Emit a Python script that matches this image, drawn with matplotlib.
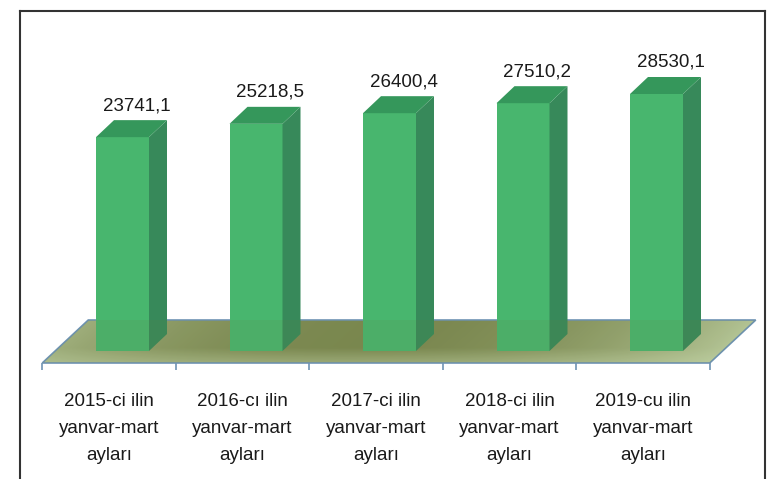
import numpy as np
import matplotlib
matplotlib.use("Agg")
import matplotlib.pyplot as plt
from matplotlib.patches import Polygon
from matplotlib.lines import Line2D

# data
years = ["2015-ci ilin", "2016-cı ilin", "2017-ci ilin", "2018-ci ilin", "2019-cu ilin"]
periods = ["yanvar-mart", "yanvar-mart", "yanvar-mart", "yanvar-mart", "yanvar-mart"]
months = ["ayları", "ayları", "ayları", "ayları", "ayları"]
values = [23741.1, 25218.5, 26400.4, 27510.2, 28530.1]
value_labels = ["23741,1", "25218,5", "26400,4", "27510,2", "28530,1"]

plt.rcParams["font.family"] = ["Liberation Sans", "DejaVu Sans"]

W, H = 776, 479
fig = plt.figure(figsize=(W / 100, H / 100), dpi=100)

# axes placed in pixel terms
ax_l, ax_r, ax_t, ax_b = 20, 765, 11, 380
ax = fig.add_axes([ax_l / W, 1 - ax_b / H, (ax_r - ax_l) / W, (ax_b - ax_t) / H])
ax.set_axis_off()

cat_px = 133.5        # pixels per category
c0_px = 109           # pixel x of first category centre
base_px = 351         # pixel y of value 0
u_per_px = 28530.1 / 257.0   # value units per pixel

ax.set_xlim((ax_l - c0_px) / cat_px, (ax_r - c0_px) / cat_px)
ax.set_ylim(-(ax_b - base_px) * u_per_px, (base_px - ax_t) * u_per_px)

def px_x(p):
    return p / cat_px

def px_y(p):
    return p * u_per_px

# floor geometry
n = len(values)
fy = -px_y(12)
fdx, fdy = px_x(46), px_y(43)
floor = [(-0.5, fy), (n - 0.5, fy), (n - 0.5 + fdx, fy + fdy), (-0.5 + fdx, fy + fdy)]

# floor gradient
xs = np.linspace(-0.5, n - 0.5 + fdx, 400)
ys = np.linspace(fy, fy + fdy, 60)
X, Y = np.meshgrid(xs, ys)
v = (Y - fy) / fdy
u = np.clip((X - (-0.5) - v * fdx) / n, 0, 1)
t = np.sin(np.pi * (0.12 + 0.85 * u)) ** 0.7
t = t * (0.55 + 0.45 * np.clip(v / 0.35, 0, 1))
light = np.array([0.80, 0.87, 0.70])
dark = np.array([0.49, 0.54, 0.32])
img = light[None, None, :] * (1 - t[..., None]) + dark[None, None, :] * t[..., None]
im = ax.imshow(img, extent=(xs[0], xs[-1], ys[0], ys[-1]), origin="lower",
               aspect="auto", zorder=1, interpolation="bilinear")
fpoly = Polygon(floor, closed=True, facecolor="none", edgecolor="#6f94b4",
                linewidth=1.2, zorder=2)
ax.add_patch(fpoly)
im.set_clip_path(fpoly)

# tick marks below the floor front edge
ax.vlines(np.arange(-0.5, n, 1.0), fy - px_y(7), fy, color="#6f94b4", linewidth=1.2, zorder=2)

# 3D bars
bw = px_x(53)
boff = px_x(13.5)
ddx, ddy = px_x(18), px_y(17)
front_c = "#48b66e"
side_c = "#37895a"
top_c = "#35975b"
for i, val in enumerate(values):
    x0 = i + boff - bw / 2
    x1 = x0 + bw
    ax.add_patch(Polygon([(x0, 0), (x1, 0), (x1, val), (x0, val)],
                         facecolor=front_c, edgecolor="none", zorder=3))
    ax.add_patch(Polygon([(x1, 0), (x1 + ddx, ddy), (x1 + ddx, val + ddy), (x1, val)],
                         facecolor=side_c, edgecolor="none", zorder=3))
    ax.add_patch(Polygon([(x0, val), (x1, val), (x1 + ddx, val + ddy), (x0 + ddx, val + ddy)],
                         facecolor=top_c, edgecolor="none", zorder=3))
    ax.text(i + boff + px_x(14), val + ddy + px_y(6), value_labels[i],
            ha="center", va="bottom", fontsize=13.5, color="#1a1a1a", zorder=5)
    ax.text(i, fy - px_y(30), years[i] + "\n" + periods[i] + "\n" + months[i],
            ha="center", va="top", fontsize=13.5, color="#1a1a1a",
            linespacing=1.75, clip_on=False, zorder=5)

# slight floor tint over the bar bottoms
ax.add_patch(Polygon(floor, closed=True, facecolor="#6b7a40", alpha=0.12,
                     edgecolor="none", zorder=4))

# frame around the chart
for xx, yy in [([20, 20], [11, 479]), ([20, 765], [11, 11]), ([765, 765], [11, 479])]:
    fig.add_artist(Line2D([p / W for p in xx], [1 - p / H for p in yy],
                          color="#333333", linewidth=1.5))

fig.savefig("out.png", dpi=100)
